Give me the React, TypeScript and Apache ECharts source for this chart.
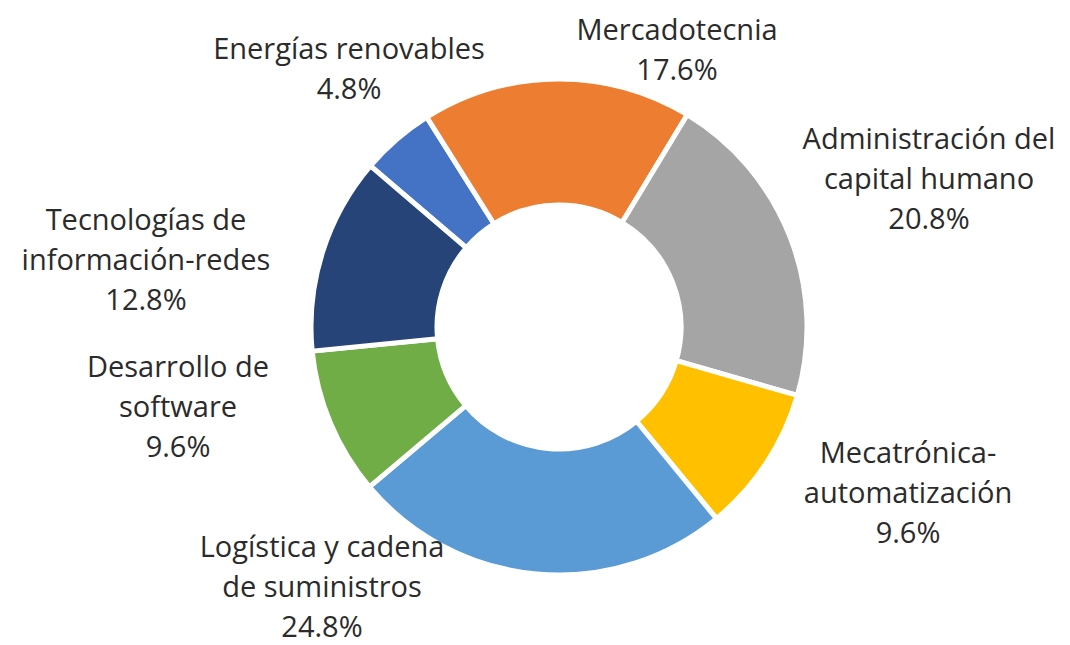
import React, { useEffect, useRef } from "react";
import * as echarts from "echarts";

const categories = [
  "Energías renovables",
  "Mercadotecnia",
  "Administración del\ncapital humano",
  "Mecatrónica-\nautomatización",
  "Logística y cadena\nde suministros",
  "Desarrollo de\nsoftware",
  "Tecnologías de\ninformación-redes",
];
const values = [4.8, 17.6, 20.8, 9.6, 24.8, 9.6, 12.8];
const colors = ["#4472C4", "#ED7D31", "#A5A5A5", "#FFC000", "#5B9BD5", "#70AD47", "#264478"];
// label block centres (layout only)
const labelPos: [number, number][] = [
  [349, 67],
  [677, 48],
  [929, 177],
  [908, 491],
  [322, 585],
  [178, 405],
  [146, 258],
];

export default function App() {
  const ref = useRef<HTMLDivElement>(null);
  useEffect(() => {
    document.body.style.margin = "0";
    const chart = echarts.init(ref.current!, null, { renderer: "svg" });
    chart.setOption({
      animation: false,
      backgroundColor: "#ffffff",
      series: [
        {
          type: "pie",
          center: [559, 327],
          radius: [122, 248],
          startAngle: 139.5,
          clockwise: true,
          avoidLabelOverlap: false,
          itemStyle: { borderColor: "#ffffff", borderWidth: 5 },
          label: {
            show: true,
            position: "outside",
            formatter: (p: any) => `${p.name}\n${Number(p.value).toFixed(1)}%`,
            fontFamily: "Open Sans",
            fontSize: 29,
            lineHeight: 40,
            color: "#2b2b2b",
            align: "center",
          },
          labelLine: { show: false },
          labelLayout: (p: any) => {
            const pos = labelPos[p.dataIndex];
            return { x: pos[0], y: pos[1], align: "center", verticalAlign: "middle" };
          },
          data: categories.map((c, i) => ({
            name: c,
            value: values[i],
            itemStyle: { color: colors[i] },
          })),
        },
      ],
    });
    return () => chart.dispose();
  }, []);
  return <div ref={ref} style={{ width: 1070, height: 645 }} />;
}
